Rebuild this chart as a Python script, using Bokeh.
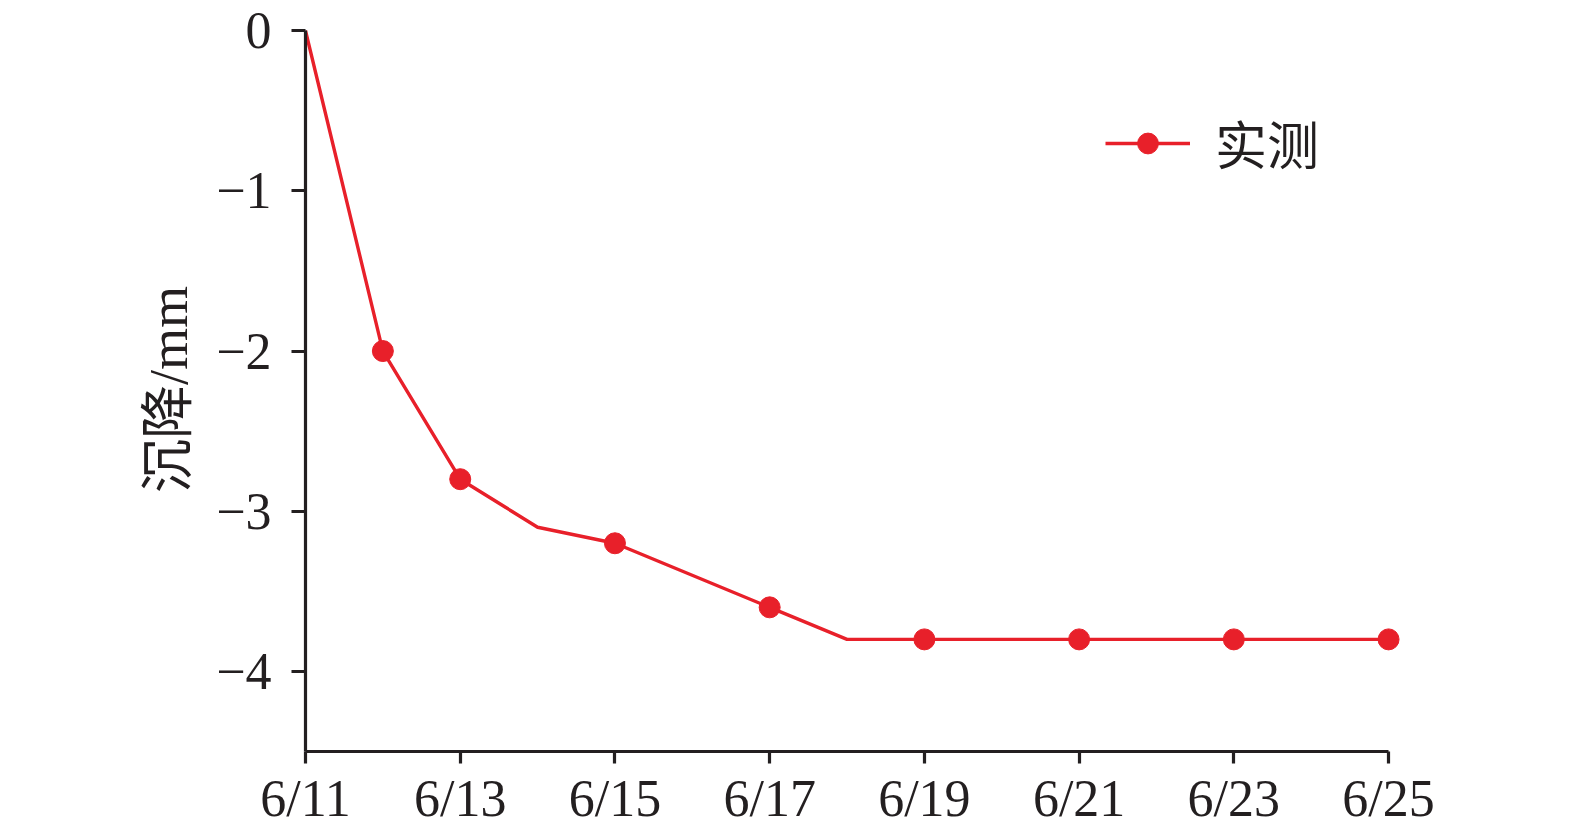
from bokeh.plotting import figure
from bokeh.models import FixedTicker, Range1d, Legend, LegendItem
from bokeh.embed import file_html
from bokeh.resources import INLINE

# data
day_line = [11, 12, 13, 14, 15, 17, 18, 19, 21, 23, 25]
val_line = [0.0, -2.0, -2.8, -3.1, -3.2, -3.6, -3.8, -3.8, -3.8, -3.8, -3.8]
day_mark = [12, 13, 15, 17, 19, 21, 23, 25]
val_mark = [-2.0, -2.8, -3.2, -3.6, -3.8, -3.8, -3.8, -3.8]
x_ticks = [11, 13, 15, 17, 19, 21, 23, 25]
x_labels = ["6/11", "6/13", "6/15", "6/17", "6/19", "6/21", "6/23", "6/25"]
y_ticks = [0, -1, -2, -3, -4]
y_labels = ["0", "\u22121", "\u22122", "\u22123", "\u22124"]
series_name = "实测"
y_title = "沉降/mm"

RED = "#e8202a"
INK = "#231f20"
FONT = "Liberation Serif, Noto Sans CJK SC"

p = figure(width=1479, height=831, output_backend="svg", toolbar_location=None,
           x_range=Range1d(11, 25.4), y_range=Range1d(-4.5, 0.02),
           min_border_left=305, min_border_top=27, min_border_right=60, min_border_bottom=80)
p.outline_line_color = None
p.grid.visible = False
p.background_fill_color = "white"
p.border_fill_color = "white"

ln = p.line(day_line, val_line, line_color=RED, line_width=3.4)
mk = p.scatter(day_mark, val_mark, size=21, fill_color=RED, line_color=RED)

xa = p.xaxis[0]
xa.ticker = FixedTicker(ticks=x_ticks)
xa.major_label_overrides = {t: l for t, l in zip(x_ticks, x_labels)}
xa.bounds = (11, 25)
ya = p.yaxis[0]
ya.ticker = FixedTicker(ticks=y_ticks)
ya.major_label_overrides = {t: l for t, l in zip(y_ticks, y_labels)}
ya.bounds = (-4.5, 0)
ya.axis_label = y_title

for ax in (xa, ya):
    ax.axis_line_color = INK
    ax.axis_line_width = 3.2
    ax.major_tick_line_color = INK
    ax.major_tick_line_width = 3.2
    ax.major_tick_in = 0
    ax.major_tick_out = 12
    ax.minor_tick_line_color = None
    ax.major_label_text_font = FONT
    ax.major_label_text_font_size = "52px"
    ax.major_label_text_color = INK
ya.major_tick_out = 14
ya.major_label_standoff = 20
xa.major_label_standoff = 6
ya.axis_label_text_font = FONT
ya.axis_label_text_font_size = "54px"
ya.axis_label_text_font_style = "normal"
ya.axis_label_text_color = INK
ya.axis_label_standoff = 14

legend = Legend(items=[LegendItem(label=series_name, renderers=[ln, mk])],
                location=(800, 571), glyph_width=85, glyph_height=52,
                label_text_font=FONT, label_text_font_size="52px",
                label_text_color=INK, label_standoff=25,
                border_line_color=None, background_fill_alpha=0)
p.add_layout(legend)

open("out.html", "w").write(file_html(p, INLINE))
